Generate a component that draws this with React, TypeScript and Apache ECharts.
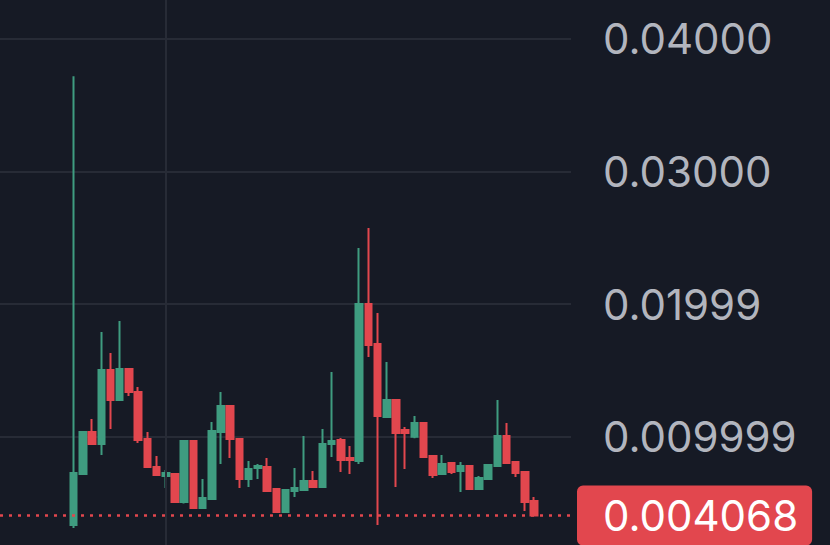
import React, { useEffect, useRef } from "react";
import * as echarts from "echarts";

// Hidden time slots on the x axis (8 empty slots before the first candle, 4 after the last)
const slots: string[] = [
  "s01","s02","s03","s04","s05","s06","s07","s08","s09","s10",
  "s11","s12","s13","s14","s15","s16","s17","s18","s19","s20",
  "s21","s22","s23","s24","s25","s26","s27","s28","s29","s30",
  "s31","s32","s33","s34","s35","s36","s37","s38","s39","s40",
  "s41","s42","s43","s44","s45","s46","s47","s48","s49","s50",
  "s51","s52","s53","s54","s55","s56","s57","s58","s59","s60",
  "s61","s62","s63",
];
const firstCandleSlot = 8;
const verticalGridSlot = "s19";

// [open, close, low, high]
const candles: number[][] = [
  [0.00335, 0.00727, 0.00312, 0.0372],
  [0.0072, 0.01036, 0.0072, 0.01036],
  [0.01036, 0.00946, 0.00938, 0.01134],
  [0.00946, 0.01504, 0.00863, 0.0179],
  [0.01504, 0.01277, 0.01059, 0.01632],
  [0.01277, 0.01511, 0.01277, 0.01873],
  [0.01511, 0.01338, 0.01308, 0.01511],
  [0.01338, 0.00976, 0.00953, 0.01376],
  [0.00983, 0.00772, 0.00772, 0.01036],
  [0.00772, 0.00712, 0.00712, 0.00855],
  [0.00704, 0.00727, 0.00614, 0.0075],
  [0.0072, 0.00508, 0.00508, 0.0072],
  [0.00508, 0.00968, 0.00497, 0.00968],
  [0.00968, 0.00463, 0.00463, 0.00968],
  [0.00463, 0.00538, 0.00463, 0.00682],
  [0.00531, 0.01044, 0.00531, 0.01112],
  [0.01036, 0.01232, 0.00795, 0.01338],
  [0.01232, 0.00983, 0.0084, 0.01232],
  [0.00983, 0.00682, 0.00614, 0.00983],
  [0.00682, 0.00757, 0.00621, 0.00818],
  [0.00765, 0.0078, 0.00682, 0.00795],
  [0.00772, 0.00591, 0.00591, 0.0084],
  [0.00606, 0.00433, 0.00433, 0.00606],
  [0.00433, 0.00599, 0.00433, 0.00599],
  [0.00591, 0.00614, 0.00546, 0.00765],
  [0.00599, 0.00667, 0.00599, 0.01006],
  [0.00667, 0.00621, 0.00614, 0.00742],
  [0.00621, 0.00946, 0.00621, 0.01059],
  [0.00946, 0.00968, 0.00848, 0.01489],
  [0.00976, 0.00825, 0.00735, 0.00991],
  [0.0084, 0.00825, 0.0072, 0.00931],
  [0.00818, 0.02002, 0.00795, 0.02424],
  [0.02002, 0.01692, 0.01602, 0.02575],
  [0.017, 0.01157, 0.00335, 0.01934],
  [0.0115, 0.01277, 0.0115, 0.01564],
  [0.01277, 0.01029, 0.00621, 0.01277],
  [0.01051, 0.01029, 0.00757, 0.01074],
  [0.01, 0.01104, 0.0099, 0.01157],
  [0.01104, 0.00848, 0.00848, 0.01112],
  [0.00855, 0.00712, 0.00689, 0.00855],
  [0.0072, 0.00795, 0.0072, 0.00863],
  [0.00802, 0.00735, 0.0072, 0.0081],
  [0.00742, 0.0078, 0.00584, 0.0081],
  [0.0078, 0.00606, 0.00606, 0.0078],
  [0.00606, 0.00689, 0.00606, 0.00704],
  [0.00682, 0.00787, 0.00682, 0.00787],
  [0.0078, 0.01006, 0.0078, 0.01277],
  [0.01006, 0.00802, 0.00802, 0.01104],
  [0.0081, 0.00727, 0.00697, 0.0081],
  [0.00735, 0.00508, 0.00441, 0.00735],
  [0.00516, 0.004068, 0.004068, 0.00546],
];

const lastPrice = 0.004068;
const lastPriceLabel = "0.004068";

const tickValues = [0.01, 0.02, 0.03, 0.04];
const tickLabels = ["0.009999", "0.01999", "0.03000", "0.04000"];
const axisMin = 0;
const axisMax = 0.042941;

const BG = "#161a25";
const GRID = "#272b36";
const UP = "#3f9c80";
const DOWN = "#e2474e";
const TEXT = "#b2b5be";
const FONT = "Inter, 'Noto Sans', sans-serif";

export default function App() {
  const ref = useRef<HTMLDivElement>(null);

  useEffect(() => {
    if (!ref.current) return;
    const chart = echarts.init(ref.current, undefined, { renderer: "svg" });

    const seriesData: any[] = [];
    for (let i = 0; i < firstCandleSlot; i++) seriesData.push(["-", "-", "-", "-"]);
    candles.forEach((c) => seriesData.push(c));

    chart.setOption({
      animation: false,
      backgroundColor: BG,
      grid: {
        left: 0,
        top: 0,
        width: 571,
        height: 569.4,
        containLabel: false,
        outerBoundsMode: "none",
      },
      xAxis: {
        type: "category",
        data: slots,
        boundaryGap: false,
        axisLine: { show: false },
        axisTick: { show: false },
        axisLabel: { show: false },
        splitLine: { show: false },
      },
      yAxis: {
        type: "value",
        position: "right",
        min: axisMin,
        max: axisMax,
        interval: 0.01,
        axisLine: { show: false },
        axisTick: { show: false },
        axisLabel: {
          margin: 32,
          color: TEXT,
          fontSize: 42,
          fontFamily: FONT,
          showMaxLabel: false,
          showMinLabel: false,
          formatter: (v: number) => {
            const idx = tickValues.findIndex((t) => Math.abs(t - v) < 1e-9);
            return idx >= 0 ? tickLabels[idx] : "";
          },
        },
        splitLine: { show: true, showMaxLine: false, showMinLine: false, lineStyle: { color: GRID, width: 2 } },
      },
      series: [
        {
          type: "line",
          data: [],
          z: 1,
          silent: true,
          markLine: {
            silent: true,
            precision: 8,
            symbol: ["none", "none"],
            data: [
              {
                xAxis: verticalGridSlot,
                label: { show: false },
                lineStyle: { color: GRID, width: 2, type: "solid" },
              },
              {
                yAxis: lastPrice,
                lineStyle: { color: DOWN, width: 2.5, type: [3, 6] },
                label: {
                  show: true,
                  position: "end",
                  distance: 6,
                  formatter: () => lastPriceLabel,
                  color: "#ffffff",
                  fontSize: 42,
                  fontFamily: FONT,
                  lineHeight: 42,
                  backgroundColor: DOWN,
                  borderRadius: 6,
                  padding: [9, 14, 9, 26],
                },
              },
            ],
          },
        },
        {
          type: "candlestick",
          data: seriesData,
          z: 3,
          barWidth: 7,
          itemStyle: {
            color: UP,
            color0: DOWN,
            borderColor: UP,
            borderColor0: DOWN,
            borderWidth: 2,
          },
        },
      ],
    });

    return () => chart.dispose();
  }, []);

  return (
    <div
      ref={ref}
      style={{ position: "fixed", left: 0, top: 0, width: 830, height: 545, background: BG }}
    />
  );
}
